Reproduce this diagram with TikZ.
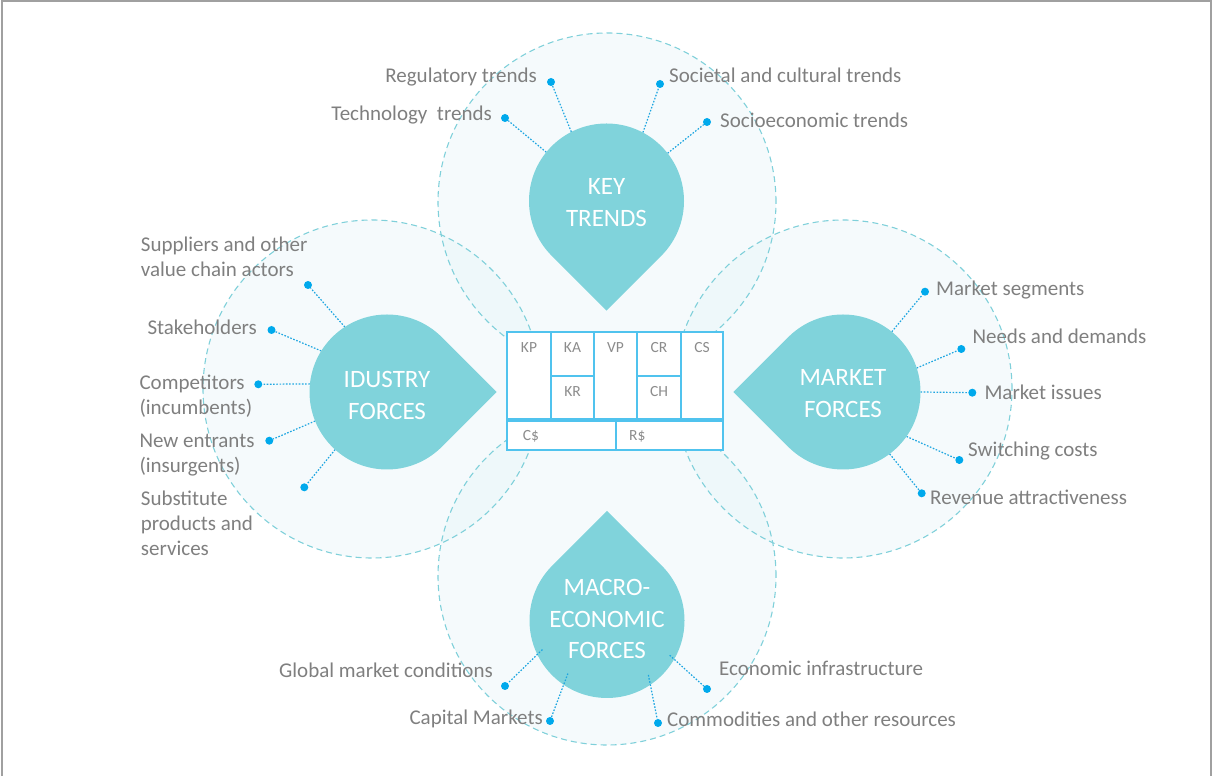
\documentclass[tikz,border=0pt]{standalone}
\usepackage{fontspec}
\setmainfont{Carlito}
\usetikzlibrary{calc}
\definecolor{dropc}{RGB}{128,211,219}
\definecolor{ringc}{RGB}{128,208,218}
\definecolor{tintc}{RGB}{225,242,246}
\definecolor{dotc}{RGB}{0,169,236}
\definecolor{connc}{RGB}{30,165,225}
\definecolor{cellc}{RGB}{80,195,238}
\definecolor{labc}{RGB}{127,127,127}
\definecolor{celltc}{RGB}{140,140,140}
\definecolor{framec}{RGB}{160,160,160}
\newcommand\mlines[1]{\begin{tabular}[t]{@{}l@{}}#1\end{tabular}}
\begin{document}
\begin{tikzpicture}[x=1pt,y=1pt,
  ring/.style={draw=ringc, line width=1.1pt, dash pattern=on 6pt off 4pt},
  tint/.style={fill=tintc, fill opacity=0.35},
  dropfill/.style={fill=dropc},
  anch/.style={circle, minimum size=155pt, inner sep=0pt, outer sep=0pt},
  dtext/.style={inner sep=0pt, align=center, text=white, font=\fontsize{25}{31.5}\selectfont},
  dotn/.style={circle, fill=dotc, inner sep=0pt, minimum size=8pt},
  conn/.style={draw=connc, line width=1.2pt, dash pattern=on 1.6pt off 1.6pt},
  lab/.style={inner sep=0pt, text=labc, font=\fontsize{21}{25}\selectfont},
  cell/.style={draw=cellc, line width=2.2pt, fill=white, inner sep=0pt, outer sep=0pt, anchor=south west},
  celltext/.style={inner sep=0pt, text=celltc, font=\fontsize{15.5}{18}\selectfont}
]
\useasboundingbox (0,0) rectangle (1212,776);
\draw[framec, line width=2pt] (2,0) -- (2,775) -- (1211,775) -- (1211,0);

% big rings
\path[tint] (607,574) circle[radius=169pt];
\path[tint] (607,200) circle[radius=169pt];
\path[tint] (372,387) circle[radius=169pt];
\path[tint] (843,387) circle[radius=169pt];
\draw[ring] (607,574) circle[radius=169pt];
\draw[ring] (607,200) circle[radius=169pt];
\draw[ring] (372,387) circle[radius=169pt];
\draw[ring] (843,387) circle[radius=169pt];

% drop centres and anchor circles
\coordinate (ktc) at (606.5,575);
\coordinate (indc) at (387,384);
\coordinate (mktc) at (843,384);
\coordinate (macc) at (607,155.5);
\node[anch] (kt) at (ktc) {};
\node[anch] (ind) at (indc) {};
\node[anch] (mkt) at (mktc) {};
\node[anch] (mac) at (macc) {};

% dots
\node[dotn] (dreg) at (551,694) {};
\node[dotn] (dsoc) at (660,692) {};
\node[dotn] (dtec) at (505,658) {};
\node[dotn] (dsco) at (707,654) {};
\node[dotn] (dsup) at (308,491) {};
\node[dotn] (dsta) at (271.5,446) {};
\node[dotn] (dcom) at (258.3,391.7) {};
\node[dotn] (dnew) at (269.3,335.3) {};
\node[dotn] (dsub) at (304.3,288.7) {};
\node[dotn] (dms) at (925,484.3) {};
\node[dotn] (dnd) at (961.3,427) {};
\node[dotn] (dmi) at (972.3,383.3) {};
\node[dotn] (dsw) at (959.3,316) {};
\node[dotn] (drv) at (921.7,282.7) {};
\node[dotn] (dgl) at (505,90) {};
\node[dotn] (dec) at (707,87) {};
\node[dotn] (dca) at (550,55) {};
\node[dotn] (dcm) at (658,53) {};

% connectors (under drops)
\draw[conn] (kt.117.3) -- (dreg);
\draw[conn] (kt.62.7) -- (dsoc);
\draw[conn] (kt.141.9) -- (dtec);
\draw[conn] (kt.38) -- (dsco);
\draw[conn] (ind.123.7) -- (dsup);
\draw[conn] (ind.148.1) -- (dsta);
\draw[conn] (ind.174.3) -- (dcom);
\draw[conn] (ind.202.7) -- (dnew);
\draw[conn] (ind.228.6) -- (dsub);
\draw[conn] (mkt.51.3) -- (dms);
\draw[conn] (mkt.18.9) -- (dnd);
\draw[conn] (mkt.-0.5) -- (dmi);
\draw[conn] (mkt.-35.3) -- (dsw);
\draw[conn] (mkt.-53) -- (drv);

% teardrops
\fill[dropfill] ($(ktc)+(-90:109.6)$) -- ($(ktc)+(-45:77.5)$) arc[start angle=-45, end angle=225, radius=77.5pt] -- cycle;
\fill[dropfill] ($(indc)+(0:109.6)$) -- ($(indc)+(45:77.5)$) arc[start angle=45, end angle=315, radius=77.5pt] -- cycle;
\fill[dropfill] ($(mktc)+(180:109.6)$) -- ($(mktc)+(225:77.5)$) arc[start angle=225, end angle=495, radius=77.5pt] -- cycle;
\fill[dropfill] ($(macc)+(90:109.6)$) -- ($(macc)+(135:77.5)$) arc[start angle=135, end angle=405, radius=77.5pt] -- cycle;

\node[dtext] (ktt) at (606.5,573.5) {KEY\\TRENDS};
\node[dtext] (indt) at (387,380.5) {IDUSTRY\\FORCES};
\node[dtext] (mktt) at (843,382.5) {MARKET\\FORCES};
\node[dtext] (mact) at (607,157) {MACRO-\\ECONOMIC\\FORCES};

% macro connectors (over drop)
\draw[conn, shorten <=-7pt] (mac.206.2) -- (dgl);
\draw[conn, shorten <=-12pt] (mac.236.6) -- (dca);
\draw[conn, shorten <=-6pt] (mac.-30.9) -- (dec);
\draw[conn, shorten <=-10pt] (mac.-56.8) -- (dcm);

% canvas
\node[cell, minimum width=44pt, minimum height=87pt] (kp) at (507,357) {};
\node[cell, minimum width=43pt, minimum height=44pt] (ka) at (551,400) {};
\node[cell, minimum width=43pt, minimum height=43pt] (kr) at (551,357) {};
\node[cell, minimum width=43pt, minimum height=87pt] (vp) at (594,357) {};
\node[cell, minimum width=44pt, minimum height=44pt] (cr) at (637,400) {};
\node[cell, minimum width=44pt, minimum height=43pt] (ch) at (637,357) {};
\node[cell, minimum width=42pt, minimum height=87pt] (cs) at (681,357) {};
\node[cell, minimum width=109pt, minimum height=29pt] (cc) at (507,326) {};
\node[cell, minimum width=107pt, minimum height=29pt] (rr) at (616,326) {};
\node[celltext, anchor=base] (kpt) at (529,423) {KP};
\node[celltext, anchor=base] (kat) at (572.5,423) {KA};
\node[celltext, anchor=base] (vpt) at (615.5,423) {VP};
\node[celltext, anchor=base] (crt) at (659,423) {CR};
\node[celltext, anchor=base] (cst) at (702,423) {CS};
\node[celltext, anchor=base] (krt) at (572.5,379) {KR};
\node[celltext, anchor=base] (cht) at (659,379) {CH};
\node[celltext, anchor=base west] (cct) at (522.7,335) {C\$};
\node[celltext, anchor=base west] (rrt) at (629,335) {R\$};

% labels
\node[lab, anchor=base east] (lreg) at (537,693) {Regulatory trends};
\node[lab, anchor=base west] (lsoc) at (669,693) {Societal and cultural trends};
\node[lab, anchor=base east] (ltec) at (492,655) {Technology\ \ trends};
\node[lab, anchor=base west] (lsco) at (720,648) {Socioeconomic trends};

\node[lab, anchor=base west] (lsup) at (140.7,524.3) {\mlines{Suppliers and other\\value chain actors}};
\node[lab, anchor=base west] (lsta) at (147.3,441) {Stakeholders};
\node[lab, anchor=base west] (lcom) at (139.3,386.7) {\mlines{Competitors\\(incumbents)}};
\node[lab, anchor=base west] (lnew) at (139.3,328.3) {\mlines{New entrants\\(insurgents)}};
\node[lab, anchor=base west] (lsub) at (140.7,270.3) {\mlines{Substitute\\products and\\services}};

\node[lab, anchor=base west] (lms) at (936,480) {Market segments};
\node[lab, anchor=base west] (lnd) at (972.3,432.7) {Needs and demands};
\node[lab, anchor=base west] (lmi) at (984.3,376) {Market issues};
\node[lab, anchor=base west] (lsw) at (968,319.3) {Switching costs};
\node[lab, anchor=base west] (lrv) at (930,271) {Revenue attractiveness};

\node[lab, anchor=base east] (lgl) at (493,98) {Global market conditions};
\node[lab, anchor=base west] (lec) at (719,100) {Economic infrastructure};
\node[lab, anchor=base east] (lca) at (543,51) {Capital Markets};
\node[lab, anchor=base west] (lcm) at (667,49) {Commodities and other resources};
\end{tikzpicture}
\end{document}
